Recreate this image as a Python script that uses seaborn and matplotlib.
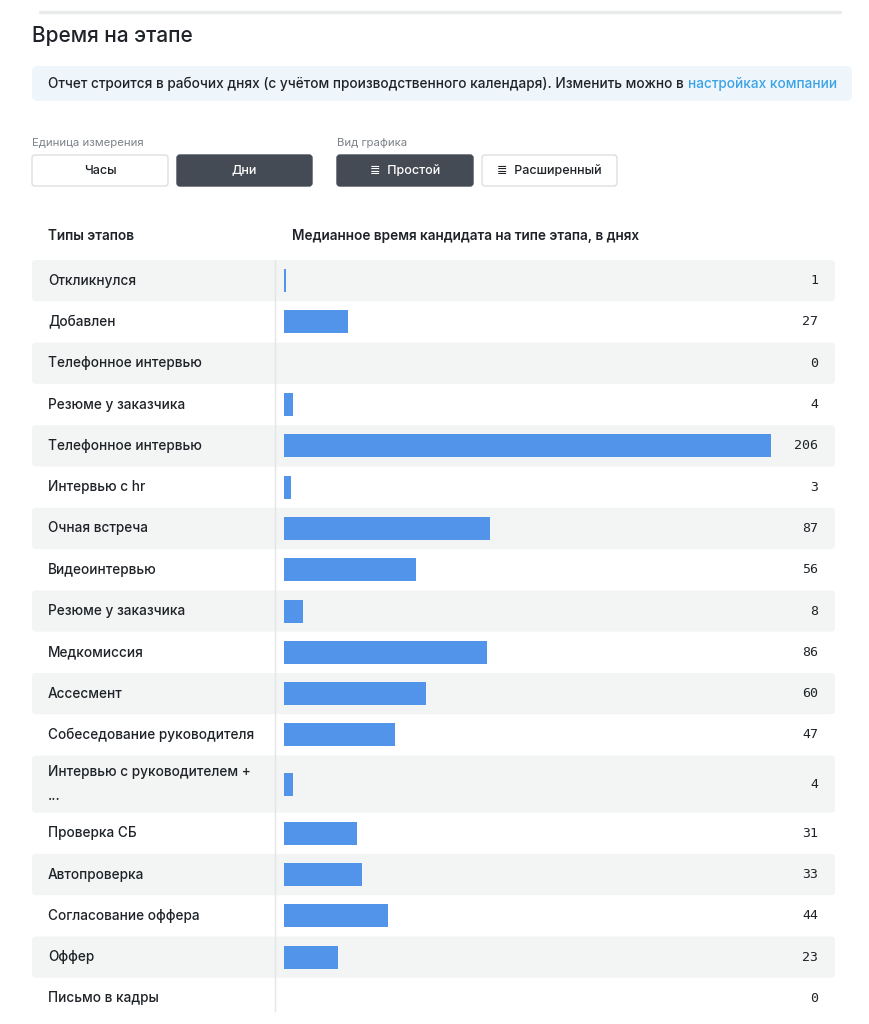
import matplotlib
matplotlib.use("Agg")
import matplotlib.pyplot as plt
from matplotlib.patches import FancyBboxPatch
import seaborn as sns
import pandas as pd

stages = ["Откликнулся", "Добавлен", "Телефонное интервью", "Резюме у заказчика",
          "Телефонное интервью", "Интервью с hr", "Очная встреча", "Видеоинтервью",
          "Резюме у заказчика", "Медкомиссия", "Ассесмент", "Собеседование руководителя",
          "Интервью с руководителем +\n...", "Проверка СБ", "Автопроверка",
          "Согласование оффера", "Оффер", "Письмо в кадры"]
days = [1, 27, 0, 4, 206, 3, 87, 56, 8, 86, 60, 47, 4, 31, 33, 44, 23, 0]

W, H = 869, 1024
sns.set_theme(style="white")
plt.rcParams['font.family'] = ['Inter', 'DejaVu Sans']
FS = 9.8
TC = "#1f2328"
fig = plt.figure(figsize=(W / 100, H / 100), dpi=100)
bg = fig.add_axes([0, 0, 1, 1])
bg.set_xlim(0, W); bg.set_ylim(H, 0); bg.axis("off")

row_h, tall_h, top = 41.3, 57.0, 260.0
centers, heights = [], []
y = top
for s in stages:
    h = tall_h if "\n" in s else row_h
    centers.append(y + h / 2); heights.append(h); y += h

bg.plot([40, 840], [12, 12], color="#e9ebed", lw=2.5)
bg.text(32, 36, "Время на этапе", fontsize=15, va="center", color=TC, fontweight="medium")
bg.add_patch(FancyBboxPatch((32, 66), 820, 35, boxstyle="round,pad=0,rounding_size=6",
                            fc="#eef6fb", ec="none"))
t = bg.text(48, 84, "Отчет строится в рабочих днях (с учётом производственного календаря). Изменить можно в ",
            fontsize=FS, va="center", color=TC, fontweight="medium")
fig.canvas.draw()
bb = t.get_window_extent()
bg.text(bb.x1 + 1, 84, "настройках компании", fontsize=FS, va="center", color="#3aa3e6",
        fontweight="medium")

bg.text(32, 143, "Единица измерения", fontsize=8.2, va="center", color="#7d8288")
bg.text(337, 143, "Вид графика", fontsize=8.2, va="center", color="#7d8288")
buttons = [(32, 136, "Часы", False), (177, 135, "Дни", True),
           (337, 136, "≣  Простой", True), (482, 135, "≣  Расширенный", False)]
for x0, w, lab, dark in buttons:
    bg.add_patch(FancyBboxPatch((x0, 155), w, 31, boxstyle="round,pad=0,rounding_size=3",
                                fc="#454b54" if dark else "white",
                                ec="#454b54" if dark else "#dcdfe2", lw=1))
    bg.text(x0 + w / 2, 170.5, lab, fontsize=9, ha="center", va="center",
            color="white" if dark else TC, fontweight="medium")

bg.text(48, 236, "Типы этапов", fontsize=FS, va="center", color=TC, fontweight="semibold")
bg.text(292, 236, "Медианное время кандидата на типе этапа, в днях", fontsize=FS,
        va="center", color=TC, fontweight="semibold")

for i, (c, h, s, v) in enumerate(zip(centers, heights, stages, days)):
    if i % 2 == 0:
        bg.add_patch(FancyBboxPatch((32, c - h / 2), 803, h, boxstyle="round,pad=0,rounding_size=4",
                                    fc="#f3f4f4", ec="none"))
    bg.text(48, c, s, fontsize=FS, va="center", color=TC, linespacing=1.9, fontweight="medium")
    bg.text(818, c, str(v), fontsize=9.5, va="center", ha="right", color=TC,
            family="DejaVu Sans Mono")
bg.plot([275, 275], [top, y - 8], color="#e3e5e7", lw=1)

scale = (771 - 284) / 206.0
x_left = 284
ax = fig.add_axes([x_left / W, 0, (W - x_left) / W, 1])
ax.set_xlim(0, (W - x_left) / scale)
df = pd.DataFrame({"days": days, "pos": centers})
sns.barplot(data=df, x="days", y="pos", orient="h", native_scale=True,
            color="#5294ea", saturation=1, width=23 / row_h, linewidth=0, ax=ax)
ax.set_ylim(H, 0)
ax.patch.set_alpha(0)
ax.axis("off")

fig.savefig("out.png", dpi=100)
